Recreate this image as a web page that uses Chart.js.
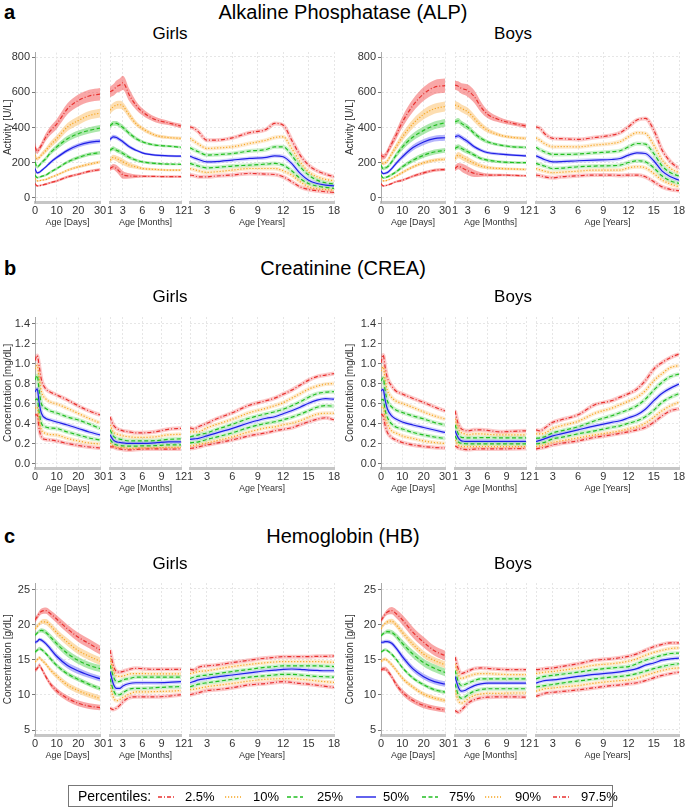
<!DOCTYPE html>
<html>
<head>
<meta charset="utf-8">
<script src="https://cdn.jsdelivr.net/npm/chart.js@4.4.1/dist/chart.umd.min.js"></script>
<style>
  body { margin: 0; background: #fff; font-family: "Liberation Sans", Arial, sans-serif; color: #000; }
  #page { position: relative; width: 685px; height: 811px; overflow: hidden; }
  .abs { position: absolute; line-height: 1; white-space: nowrap; }
  .letter { font-weight: bold; font-size: 20px; }
  .title { font-size: 20px; transform: translateX(-50%); }
  .sex { font-size: 17px; transform: translateX(-50%); }
  .panel { position: absolute; }
  #legend { position: absolute; left: 68px; top: 785px; width: 543px; height: 20px; border: 1.5px solid #777; }
  .lg { position: absolute; font-size: 13px; line-height: 1; top: 4px; }
</style>
</head>
<body>
<div id="page"></div>
<script>
// ── Categories / axes ───────────────────────────────────
const pctLabels = ["2.5%", "10%", "25%", "50%", "75%", "90%", "97.5%"];
const daysX   = [0, 1, 2, 3, 5, 7, 10, 15, 20, 25, 30];
const monthsX = [1, 1.5, 2, 2.5, 3, 4, 5, 6, 8, 10, 12];
const yearsX  = [1, 1.5, 2, 3, 4, 6, 8, 10, 11, 12, 13, 14, 15, 16, 17, 18];
const dayTicks   = [0, 10, 20, 30];
const monthTicks = [1, 3, 6, 9, 12];
const yearTicks  = [1, 3, 6, 9, 12, 15, 18];
const alpTicks  = [0, 200, 400, 600, 800];
const creaTicks = [0, 0.2, 0.4, 0.6, 0.8, 1.0, 1.2, 1.4];
const hbTicks   = [5, 10, 15, 20, 25];

// ── ALP (U/L), rows = 2.5, 10, 25, 50, 75, 90, 97.5 ─────
const alpGirlsDays = [
  [81, 68, 69, 72, 78, 86, 96, 119, 134, 150, 160],
  [110, 96, 97, 100, 104, 115, 129, 157, 176, 191, 204],
  [129, 115, 117, 122, 129, 145, 166, 204, 229, 248, 257],
  [166, 142, 145, 155, 176, 200, 229, 270, 299, 316, 323],
  [204, 176, 185, 200, 223, 255, 289, 336, 365, 384, 397],
  [242, 222, 230, 245, 270, 300, 336, 403, 440, 469, 482],
  [290, 265, 280, 300, 346, 380, 420, 507, 554, 580, 590]
];
const alpGirlsDaysCI = [
  [15, 10, 10, 10, 12, 12, 14, 15, 15, 16, 16],
  [15, 10, 10, 10, 12, 12, 14, 15, 16, 16, 16],
  [18, 12, 12, 12, 14, 15, 16, 18, 20, 20, 20],
  [22, 14, 14, 15, 16, 18, 20, 22, 24, 24, 24],
  [28, 18, 18, 20, 24, 26, 30, 34, 36, 36, 36],
  [35, 22, 22, 26, 30, 35, 40, 46, 50, 50, 50],
  [50, 30, 32, 36, 42, 48, 55, 62, 68, 70, 72]
];
const alpGirlsMonths = [
  [166, 176, 166, 148, 130, 124, 122, 122, 121, 120, 120],
  [214, 229, 223, 214, 204, 185, 176, 166, 161, 157, 157],
  [270, 280, 270, 262, 251, 229, 214, 204, 195, 191, 190],
  [331, 346, 342, 330, 318, 289, 270, 255, 242, 238, 236],
  [407, 422, 422, 412, 399, 365, 337, 318, 299, 293, 286],
  [497, 516, 526, 528, 520, 469, 422, 393, 355, 342, 337],
  [601, 611, 630, 639, 652, 582, 526, 488, 444, 425, 407]
];
const alpGirlsMonthsCI = [
  [25, 30, 40, 45, 45, 30, 20, 15, 12, 12, 12],
  [30, 30, 32, 35, 35, 30, 22, 18, 14, 12, 12],
  [25, 25, 25, 25, 25, 22, 18, 15, 14, 12, 12],
  [22, 22, 22, 22, 22, 20, 16, 14, 12, 12, 12],
  [28, 28, 28, 28, 28, 25, 20, 18, 15, 14, 14],
  [45, 45, 45, 45, 45, 40, 30, 25, 20, 18, 18],
  [60, 65, 70, 75, 80, 70, 50, 40, 30, 25, 25]
];
const alpGirlsYears = [
  [129, 125, 119, 119, 123, 129, 138, 134, 132, 119, 91, 62, 47, 40, 34, 30],
  [166, 160, 153, 144, 147, 157, 166, 166, 166, 153, 129, 91, 62, 51, 47, 43],
  [195, 188, 180, 170, 172, 180, 185, 191, 195, 185, 153, 110, 81, 66, 59, 53],
  [236, 226, 217, 204, 205, 214, 223, 229, 238, 233, 195, 138, 100, 81, 72, 68],
  [284, 272, 261, 242, 244, 251, 265, 274, 289, 289, 242, 176, 129, 100, 85, 78],
  [337, 320, 304, 280, 282, 289, 308, 327, 342, 346, 280, 204, 147, 119, 104, 96],
  [403, 393, 374, 327, 327, 340, 369, 388, 422, 412, 327, 242, 185, 153, 134, 119]
];
const alpBoysDays = [
  [81, 68, 69, 72, 81, 91, 100, 123, 142, 157, 161],
  [110, 96, 97, 100, 110, 123, 144, 176, 199, 214, 219],
  [129, 113, 115, 119, 132, 147, 176, 214, 242, 261, 270],
  [153, 138, 140, 144, 166, 195, 233, 286, 318, 337, 342],
  [185, 166, 170, 176, 204, 242, 289, 346, 384, 412, 427],
  [214, 195, 200, 210, 251, 289, 346, 422, 475, 507, 520],
  [242, 233, 240, 261, 308, 355, 431, 526, 592, 630, 639]
];
const alpBoysDaysCI = [
  [15, 10, 10, 10, 12, 12, 14, 16, 18, 18, 18],
  [15, 10, 10, 10, 12, 14, 16, 18, 20, 20, 20],
  [18, 12, 12, 14, 16, 18, 22, 26, 28, 28, 28],
  [22, 14, 14, 16, 20, 22, 26, 32, 34, 34, 34],
  [28, 18, 18, 20, 26, 30, 36, 42, 44, 44, 44],
  [35, 22, 22, 26, 32, 38, 45, 52, 56, 56, 56],
  [50, 30, 32, 36, 44, 52, 62, 72, 78, 80, 80]
];
const alpBoysMonths = [
  [166, 180, 172, 162, 153, 138, 132, 129, 129, 127, 125],
  [223, 242, 233, 223, 214, 195, 180, 172, 166, 163, 161],
  [280, 289, 280, 270, 261, 242, 223, 214, 204, 200, 199],
  [346, 352, 342, 330, 318, 289, 270, 257, 248, 242, 238],
  [431, 437, 422, 410, 399, 365, 337, 318, 299, 289, 286],
  [526, 520, 507, 498, 488, 450, 412, 384, 355, 342, 337],
  [639, 633, 620, 615, 607, 573, 516, 475, 441, 422, 407]
];
const alpBoysMonthsCI = [
  [30, 35, 45, 50, 50, 40, 25, 18, 14, 12, 12],
  [35, 35, 35, 35, 35, 30, 25, 20, 16, 14, 14],
  [28, 28, 28, 28, 26, 24, 20, 18, 15, 14, 14],
  [26, 26, 26, 26, 25, 22, 18, 16, 14, 14, 14],
  [30, 30, 30, 30, 30, 28, 24, 20, 16, 15, 15],
  [45, 45, 45, 45, 45, 42, 35, 28, 20, 18, 18],
  [50, 55, 60, 65, 70, 70, 60, 45, 30, 25, 25]
];
const alpBoysYears = [
  [129, 125, 119, 113, 119, 125, 129, 129, 127, 129, 129, 119, 91, 62, 47, 40],
  [166, 158, 151, 142, 145, 151, 157, 157, 157, 170, 176, 170, 138, 100, 78, 62],
  [195, 188, 180, 166, 168, 176, 180, 182, 185, 200, 210, 204, 170, 123, 96, 81],
  [238, 228, 217, 204, 205, 210, 214, 217, 223, 242, 255, 251, 210, 151, 119, 100],
  [286, 272, 261, 246, 246, 248, 255, 261, 267, 289, 308, 304, 251, 180, 142, 123],
  [340, 325, 308, 289, 290, 289, 299, 308, 318, 346, 369, 365, 299, 214, 166, 142],
  [403, 393, 365, 337, 335, 331, 342, 355, 369, 403, 441, 450, 384, 270, 204, 166]
];

// ── CREA (mg/dL) ────────────────────────────────────────
const creaGirlsDays = [
  [0.49, 0.49, 0.34, 0.27, 0.245, 0.24, 0.23, 0.205, 0.185, 0.17, 0.16],
  [0.555, 0.57, 0.42, 0.34, 0.305, 0.295, 0.29, 0.255, 0.23, 0.21, 0.20],
  [0.64, 0.65, 0.505, 0.405, 0.37, 0.36, 0.355, 0.32, 0.29, 0.26, 0.24],
  [0.72, 0.75, 0.60, 0.505, 0.455, 0.44, 0.42, 0.39, 0.355, 0.32, 0.29],
  [0.84, 0.885, 0.72, 0.60, 0.555, 0.53, 0.51, 0.47, 0.44, 0.40, 0.355],
  [0.95, 0.985, 0.84, 0.72, 0.65, 0.62, 0.60, 0.555, 0.505, 0.455, 0.41],
  [1.035, 1.085, 0.97, 0.84, 0.75, 0.72, 0.69, 0.64, 0.58, 0.53, 0.49]
];
const creaGirlsMonths = [
  [0.17, 0.17, 0.155, 0.15, 0.145, 0.14, 0.145, 0.148, 0.15, 0.148, 0.15],
  [0.21, 0.18, 0.165, 0.163, 0.163, 0.155, 0.157, 0.158, 0.16, 0.165, 0.165],
  [0.245, 0.205, 0.19, 0.185, 0.18, 0.178, 0.178, 0.18, 0.182, 0.19, 0.19],
  [0.29, 0.24, 0.22, 0.215, 0.21, 0.205, 0.205, 0.205, 0.21, 0.22, 0.22],
  [0.34, 0.28, 0.255, 0.248, 0.24, 0.23, 0.23, 0.23, 0.232, 0.245, 0.25],
  [0.39, 0.32, 0.30, 0.29, 0.28, 0.27, 0.265, 0.265, 0.27, 0.29, 0.295],
  [0.47, 0.39, 0.355, 0.34, 0.33, 0.32, 0.31, 0.31, 0.32, 0.345, 0.355]
];
const creaGirlsYears = [
  [0.155, 0.16, 0.17, 0.19, 0.205, 0.24, 0.28, 0.31, 0.33, 0.345, 0.36, 0.39, 0.42, 0.445, 0.46, 0.44],
  [0.18, 0.185, 0.195, 0.21, 0.23, 0.27, 0.32, 0.36, 0.37, 0.39, 0.405, 0.43, 0.465, 0.495, 0.505, 0.505],
  [0.21, 0.215, 0.22, 0.245, 0.265, 0.31, 0.365, 0.405, 0.42, 0.44, 0.465, 0.495, 0.53, 0.565, 0.58, 0.575],
  [0.245, 0.25, 0.255, 0.28, 0.305, 0.355, 0.41, 0.455, 0.47, 0.50, 0.53, 0.565, 0.605, 0.635, 0.65, 0.645],
  [0.27, 0.28, 0.29, 0.31, 0.34, 0.395, 0.455, 0.50, 0.52, 0.545, 0.58, 0.62, 0.665, 0.70, 0.715, 0.72],
  [0.32, 0.32, 0.32, 0.36, 0.39, 0.445, 0.51, 0.555, 0.58, 0.61, 0.655, 0.70, 0.745, 0.775, 0.795, 0.80],
  [0.36, 0.35, 0.37, 0.405, 0.445, 0.51, 0.585, 0.63, 0.655, 0.695, 0.735, 0.785, 0.835, 0.87, 0.885, 0.90]
];
const creaBoysDays = [
  [0.50, 0.48, 0.38, 0.315, 0.265, 0.24, 0.215, 0.19, 0.175, 0.165, 0.16],
  [0.565, 0.57, 0.465, 0.40, 0.33, 0.31, 0.28, 0.255, 0.23, 0.215, 0.205],
  [0.64, 0.645, 0.53, 0.465, 0.40, 0.37, 0.35, 0.315, 0.29, 0.27, 0.255],
  [0.73, 0.745, 0.63, 0.55, 0.48, 0.45, 0.42, 0.39, 0.365, 0.34, 0.315],
  [0.83, 0.86, 0.725, 0.63, 0.57, 0.54, 0.515, 0.48, 0.45, 0.415, 0.39],
  [0.93, 0.97, 0.83, 0.735, 0.665, 0.63, 0.605, 0.565, 0.52, 0.48, 0.45],
  [1.01, 1.09, 0.96, 0.86, 0.78, 0.73, 0.70, 0.655, 0.615, 0.57, 0.53]
];
const creaBoysMonths = [
  [0.18, 0.16, 0.15, 0.145, 0.143, 0.148, 0.15, 0.15, 0.15, 0.152, 0.155],
  [0.24, 0.19, 0.175, 0.173, 0.172, 0.173, 0.174, 0.174, 0.173, 0.173, 0.172],
  [0.28, 0.22, 0.205, 0.202, 0.20, 0.20, 0.201, 0.201, 0.20, 0.20, 0.20],
  [0.33, 0.26, 0.23, 0.226, 0.225, 0.225, 0.226, 0.226, 0.225, 0.225, 0.225],
  [0.39, 0.30, 0.265, 0.262, 0.26, 0.26, 0.262, 0.262, 0.26, 0.26, 0.26],
  [0.45, 0.35, 0.31, 0.30, 0.29, 0.30, 0.30, 0.295, 0.29, 0.29, 0.29],
  [0.53, 0.40, 0.35, 0.335, 0.33, 0.34, 0.34, 0.335, 0.32, 0.325, 0.33]
];
const creaBoysYears = [
  [0.15, 0.158, 0.165, 0.19, 0.205, 0.23, 0.265, 0.29, 0.305, 0.32, 0.34, 0.365, 0.415, 0.48, 0.53, 0.55],
  [0.172, 0.18, 0.19, 0.215, 0.23, 0.26, 0.29, 0.315, 0.33, 0.35, 0.37, 0.405, 0.465, 0.53, 0.58, 0.615],
  [0.20, 0.205, 0.215, 0.25, 0.265, 0.30, 0.33, 0.365, 0.38, 0.405, 0.43, 0.47, 0.535, 0.615, 0.665, 0.70],
  [0.225, 0.235, 0.25, 0.28, 0.30, 0.34, 0.38, 0.415, 0.43, 0.46, 0.49, 0.545, 0.63, 0.705, 0.755, 0.795],
  [0.255, 0.26, 0.27, 0.31, 0.33, 0.37, 0.43, 0.48, 0.51, 0.54, 0.58, 0.645, 0.735, 0.815, 0.87, 0.895],
  [0.30, 0.30, 0.305, 0.355, 0.38, 0.425, 0.505, 0.555, 0.59, 0.625, 0.665, 0.73, 0.83, 0.90, 0.96, 0.98],
  [0.34, 0.33, 0.355, 0.415, 0.44, 0.49, 0.59, 0.63, 0.665, 0.70, 0.745, 0.83, 0.945, 1.01, 1.06, 1.095]
];

// ── HB (g/dL) ───────────────────────────────────────────
const hbGirlsDays = [
  [13.6, 13.75, 14.2, 13.75, 12.6, 11.6, 10.6, 9.5, 8.8, 8.4, 8.2],
  [14.7, 15.0, 15.3, 15.0, 14.4, 13.6, 12.7, 11.4, 10.6, 10.0, 9.5],
  [16.1, 16.35, 16.6, 16.45, 15.9, 15.2, 14.2, 13.0, 12.2, 11.5, 10.9],
  [17.5, 17.6, 17.9, 17.8, 17.3, 16.6, 15.5, 14.2, 13.4, 12.8, 12.3],
  [18.5, 18.8, 19.1, 19.2, 18.9, 18.3, 17.3, 15.9, 14.9, 14.2, 13.75],
  [19.4, 19.75, 20.1, 20.4, 20.4, 19.9, 18.9, 17.5, 16.3, 15.5, 14.8],
  [20.7, 21.1, 21.6, 21.9, 22.0, 21.6, 20.8, 19.4, 18.2, 17.3, 16.4]
];
const hbGirlsDaysCI = [
  [0.6, 0.6, 0.6, 0.6, 0.7, 0.7, 0.8, 0.8, 0.8, 0.8, 0.8],
  [0.5, 0.5, 0.5, 0.5, 0.6, 0.7, 0.8, 0.8, 0.8, 0.8, 0.8],
  [0.5, 0.5, 0.5, 0.5, 0.5, 0.6, 0.6, 0.6, 0.6, 0.6, 0.6],
  [0.5, 0.5, 0.5, 0.5, 0.6, 0.7, 0.8, 0.9, 0.9, 0.8, 0.8],
  [0.5, 0.5, 0.5, 0.6, 0.7, 0.8, 0.9, 1.0, 1.0, 1.0, 1.0],
  [0.6, 0.6, 0.6, 0.6, 0.8, 0.9, 1.0, 1.1, 1.1, 1.1, 1.1],
  [0.8, 0.8, 0.8, 0.8, 0.9, 1.0, 1.1, 1.2, 1.3, 1.3, 1.3]
];
const hbGirlsMonths = [
  [8.1, 7.9, 8.1, 8.5, 9.0, 9.6, 9.7, 9.7, 9.7, 9.8, 10.0],
  [11.4, 9.7, 9.15, 9.3, 9.6, 10.1, 10.4, 10.4, 10.45, 10.5, 10.6],
  [12.3, 10.7, 10.0, 10.0, 10.3, 10.8, 10.9, 10.9, 11.0, 11.1, 11.15],
  [13.3, 11.6, 10.9, 10.9, 11.25, 11.6, 11.7, 11.7, 11.7, 11.75, 11.85],
  [14.2, 12.65, 11.85, 11.9, 12.1, 12.3, 12.5, 12.5, 12.5, 12.5, 12.5],
  [15.2, 13.5, 12.65, 12.6, 12.65, 12.95, 13.0, 13.0, 12.95, 12.95, 12.95],
  [16.35, 14.2, 13.3, 13.2, 13.3, 13.6, 13.75, 13.7, 13.6, 13.6, 13.6]
];
const hbGirlsYears = [
  [10.0, 10.15, 10.3, 10.6, 10.7, 11.0, 11.4, 11.6, 11.75, 11.85, 11.75, 11.6, 11.5, 11.35, 11.2, 11.05],
  [10.7, 10.8, 10.9, 11.15, 11.3, 11.6, 11.95, 12.2, 12.25, 12.3, 12.3, 12.2, 12.1, 11.95, 11.85, 11.75],
  [11.15, 11.3, 11.5, 11.7, 11.85, 12.2, 12.5, 12.7, 12.8, 12.9, 12.9, 12.8, 12.7, 12.6, 12.55, 12.5],
  [11.7, 11.9, 12.1, 12.3, 12.5, 12.8, 13.1, 13.4, 13.5, 13.6, 13.65, 13.6, 13.5, 13.45, 13.4, 13.4],
  [12.3, 12.5, 12.65, 12.8, 12.95, 13.3, 13.6, 13.9, 14.0, 14.1, 14.1, 14.1, 14.1, 14.1, 14.05, 14.0],
  [13.0, 13.15, 13.3, 13.4, 13.6, 14.0, 14.3, 14.55, 14.65, 14.7, 14.7, 14.7, 14.7, 14.7, 14.65, 14.6],
  [13.6, 13.5, 13.9, 14.1, 14.2, 14.55, 14.9, 15.2, 15.3, 15.4, 15.4, 15.4, 15.4, 15.45, 15.45, 15.5]
];
const hbBoysDays = [
  [13.55, 13.7, 13.7, 13.45, 12.6, 11.55, 10.4, 9.2, 8.5, 8.1, 7.85],
  [14.8, 15.0, 15.1, 14.9, 14.3, 13.55, 12.4, 11.1, 10.1, 9.55, 9.2],
  [16.1, 16.3, 16.45, 16.3, 15.8, 15.1, 13.9, 12.4, 11.45, 10.75, 10.4],
  [17.5, 17.5, 17.6, 17.6, 17.35, 16.7, 15.45, 13.7, 12.6, 11.9, 11.55],
  [18.4, 18.7, 18.9, 19.0, 18.9, 18.4, 17.35, 15.8, 14.6, 13.8, 13.2],
  [19.4, 19.9, 20.2, 20.4, 20.5, 20.0, 18.9, 17.2, 15.8, 14.9, 14.3],
  [20.6, 21.05, 21.5, 21.8, 22.0, 21.6, 20.7, 18.9, 17.5, 16.3, 15.6]
];
const hbBoysDaysCI = [
  [0.6, 0.6, 0.6, 0.7, 0.7, 0.8, 0.8, 0.8, 0.8, 0.7, 0.7],
  [0.5, 0.5, 0.5, 0.5, 0.6, 0.6, 0.6, 0.6, 0.6, 0.6, 0.6],
  [0.4, 0.4, 0.4, 0.4, 0.5, 0.5, 0.5, 0.5, 0.5, 0.5, 0.5],
  [0.5, 0.5, 0.5, 0.5, 0.6, 0.7, 0.8, 0.8, 0.8, 0.8, 0.8],
  [0.5, 0.5, 0.5, 0.6, 0.7, 0.8, 1.0, 1.1, 1.1, 1.1, 1.1],
  [0.5, 0.5, 0.5, 0.6, 0.7, 0.8, 0.9, 1.0, 1.0, 1.0, 1.0],
  [0.7, 0.7, 0.7, 0.8, 1.0, 1.2, 1.4, 1.5, 1.5, 1.4, 1.4]
];
const hbBoysMonths = [
  [7.75, 7.5, 7.85, 8.3, 8.8, 9.3, 9.55, 9.65, 9.7, 9.7, 9.65],
  [10.6, 9.2, 8.8, 9.05, 9.4, 9.9, 10.1, 10.2, 10.2, 10.25, 10.25],
  [11.55, 10.0, 9.5, 9.65, 10.0, 10.5, 10.75, 10.85, 10.85, 10.85, 10.85],
  [12.6, 11.1, 10.5, 10.6, 10.85, 11.3, 11.55, 11.65, 11.65, 11.65, 11.65],
  [13.45, 11.9, 11.3, 11.45, 11.65, 12.0, 12.25, 12.25, 12.25, 12.25, 12.25],
  [14.4, 12.9, 12.3, 12.45, 12.6, 12.9, 13.0, 13.0, 12.9, 12.85, 12.85],
  [15.35, 13.7, 13.0, 13.15, 13.35, 13.7, 13.8, 13.75, 13.6, 13.55, 13.55]
];
const hbBoysYears = [
  [9.75, 10.0, 10.2, 10.35, 10.45, 10.7, 11.0, 11.3, 11.4, 11.55, 11.7, 12.0, 12.4, 12.75, 13.0, 13.2],
  [10.5, 10.7, 10.85, 10.95, 11.1, 11.3, 11.65, 11.9, 12.0, 12.1, 12.35, 12.75, 13.1, 13.45, 13.7, 13.8],
  [11.1, 11.2, 11.3, 11.45, 11.65, 11.95, 12.25, 12.5, 12.6, 12.75, 13.0, 13.35, 13.7, 14.0, 14.25, 14.4],
  [11.65, 11.85, 12.0, 12.1, 12.25, 12.6, 12.9, 13.1, 13.25, 13.45, 13.7, 14.2, 14.5, 14.9, 15.1, 15.2],
  [12.25, 12.45, 12.6, 12.75, 12.9, 13.2, 13.55, 13.8, 13.9, 14.0, 14.4, 14.9, 15.25, 15.6, 15.85, 15.9],
  [13.0, 13.1, 13.2, 13.3, 13.45, 13.8, 14.2, 14.4, 14.55, 14.75, 15.1, 15.6, 16.0, 16.3, 16.55, 16.65],
  [13.55, 13.6, 13.7, 13.8, 14.0, 14.4, 14.9, 15.1, 15.25, 15.45, 15.8, 16.3, 16.8, 17.15, 17.35, 17.35]
];

// ── Styles ──────────────────────────────────────────────
const FONT = "'Liberation Sans', Arial, sans-serif";
const lineColors = ["#e8312f", "#f6a623", "#22bf22", "#1f1fe6", "#22bf22", "#f6a623", "#e8312f"];
const bandColors = ["rgba(244,80,80,0.5)", "rgba(252,190,100,0.5)", "rgba(90,210,90,0.5)", "rgba(110,110,250,0.5)",
                    "rgba(90,210,90,0.5)", "rgba(252,190,100,0.5)", "rgba(244,80,80,0.5)"];
const haloColors = ["rgba(244,80,80,0.3)", "rgba(252,190,100,0.3)", "rgba(90,210,90,0.3)", "rgba(110,110,250,0.3)",
                    "rgba(90,210,90,0.3)", "rgba(252,190,100,0.3)", "rgba(244,80,80,0.3)"];
const dashes = [[4, 2, 1, 2], [1.2, 1.8], [4, 2.5], [], [4, 2.5], [1.2, 1.8], [4, 2, 1, 2]];

const page = document.getElementById("page");

function addText(cls, text, left, top) {
  const el = document.createElement("div");
  el.className = "abs " + cls;
  el.textContent = text;
  el.style.left = left + "px";
  el.style.top = top + "px";
  page.appendChild(el);
}

// ── Layout ──────────────────────────────────────────────
const PAD_X = 10, PAD_T = 8, X_H = 26;
const rows = [
  { letter: "a", title: "Alkaline Phosphatase (ALP)", titleY: 2, sexY: 25, top: 52, bottom: 202,
    yMin: -24, yMax: 827, yTicks: alpTicks, dec: 0, yTitle: "Activity [U/L]",
    girls: [alpGirlsDays, alpGirlsMonths, alpGirlsYears], girlsCI: [alpGirlsDaysCI, alpGirlsMonthsCI, null],
    boys: [alpBoysDays, alpBoysMonths, alpBoysYears], boysCI: [alpBoysDaysCI, alpBoysMonthsCI, null] },
  { letter: "b", title: "Creatinine (CREA)", titleY: 258, sexY: 288, top: 317, bottom: 468,
    yMin: -0.04, yMax: 1.463, yTicks: creaTicks, dec: 1, yTitle: "Concentration [mg/dL]",
    girls: [creaGirlsDays, creaGirlsMonths, creaGirlsYears], girlsCI: [null, null, null],
    boys: [creaBoysDays, creaBoysMonths, creaBoysYears], boysCI: [null, null, null] },
  { letter: "c", title: "Hemoglobin (HB)", titleY: 526, sexY: 555, top: 583, bottom: 735,
    yMin: 4.29, yMax: 25.85, yTicks: hbTicks, dec: 0, yTitle: "Concentration [g/dL]",
    girls: [hbGirlsDays, hbGirlsMonths, hbGirlsYears], girlsCI: [hbGirlsDaysCI, null, null],
    boys: [hbBoysDays, hbBoysMonths, hbBoysYears], boysCI: [hbBoysDaysCI, null, null] }
];
const cols = {
  girls: { label: "Girls", center: 170, yW: 33, spans: [[35, 100], [110, 181], [190, 334]] },
  boys:  { label: "Boys",  center: 513, yW: 37, spans: [[381, 445], [455, 526], [536, 679]] }
};
const segs = [
  { xs: daysX,   min: 0, max: 30, ticks: dayTicks,   title: "Age [Days]" },
  { xs: monthsX, min: 1, max: 12, ticks: monthTicks, title: "Age [Months]" },
  { xs: yearsX,  min: 1, max: 18, ticks: yearTicks,  title: "Age [Years]" }
];

function buildDatasets(xs, series, ci) {
  const lines = [], under = [];
  series.forEach((vals, i) => {
    const pts = xs.map((x, j) => ({ x, y: vals[j] }));
    lines.push({ data: pts, borderColor: lineColors[i], borderDash: dashes[i], borderWidth: 1.2,
                 pointRadius: 0, fill: false, order: 1 });
    if (ci) {
      under.push({ data: xs.map((x, j) => ({ x, y: vals[j] - ci[i][j] / 2 })), borderColor: "transparent",
                   borderWidth: 1, pointRadius: 0, fill: false, order: 3 });
      under.push({ data: xs.map((x, j) => ({ x, y: vals[j] + ci[i][j] / 2 })), borderColor: "transparent",
                   borderWidth: 1, pointRadius: 0, fill: "-1", backgroundColor: bandColors[i], order: 3 });
    } else {
      under.push({ data: pts, borderColor: haloColors[i], borderWidth: 4, pointRadius: 0, fill: false, order: 2 });
    }
  });
  return under.concat(lines);
}

function makePanel(row, col, segIdx, series, ci) {
  const seg = segs[segIdx];
  const [pl, pr] = col.spans[segIdx];
  const showY = segIdx === 0;
  const yW = showY ? col.yW : 0;
  const w = (pr - pl) + 2 * PAD_X + yW;
  const h = PAD_T + (row.bottom - row.top) + X_H;
  const div = document.createElement("div");
  div.className = "panel";
  div.style.left = (pl - PAD_X - yW) + "px";
  div.style.top = (row.top - PAD_T) + "px";
  div.style.width = w + "px";
  div.style.height = h + "px";
  const canvas = document.createElement("canvas");
  canvas.width = w;
  canvas.height = h;
  div.appendChild(canvas);
  page.appendChild(div);

  new Chart(canvas.getContext("2d"), {
    type: "line",
    data: { datasets: buildDatasets(seg.xs, series, ci) },
    options: {
      responsive: false,
      animation: false,
      events: [],
      layout: { padding: { left: PAD_X, right: PAD_X, top: PAD_T, bottom: 0 } },
      elements: { line: { cubicInterpolationMode: "monotone" } },
      plugins: { legend: { display: false }, tooltip: { enabled: false }, filler: { drawTime: "beforeDatasetsDraw" } },
      scales: {
        x: {
          type: "linear", min: seg.min, max: seg.max,
          afterBuildTicks: s => { s.ticks = seg.ticks.map(v => ({ value: v })); },
          afterFit: s => { s.height = X_H; },
          ticks: { font: { family: FONT, size: 11 }, color: "#333", padding: 2, maxRotation: 0, autoSkip: false,
                   callback: v => String(v) },
          grid: { color: "#e6e6e6", drawTicks: false },
          border: { color: "#c6c6c6", width: 3, dash: [2, 2] },
          title: { display: true, text: seg.title, font: { family: FONT, size: 9 }, color: "#333",
                   padding: { top: 0, bottom: 0 } }
        },
        y: {
          min: row.yMin, max: row.yMax,
          afterBuildTicks: s => { s.ticks = row.yTicks.map(v => ({ value: v })); },
          afterFit: s => { s.width = yW; },
          ticks: { display: showY, font: { family: FONT, size: 11 }, color: "#333", padding: 2,
                   callback: v => Number(v).toFixed(row.dec) },
          grid: { color: "#e6e6e6", drawTicks: showY, tickLength: 3, tickColor: "#777" },
          border: { display: showY, color: "#aaa", width: 1, dash: [2, 2] },
          title: { display: showY, text: row.yTitle, font: { family: FONT, size: 10 }, color: "#333",
                   padding: { top: 0, bottom: 0 } }
        }
      }
    }
  });
}

// ── Build page ──────────────────────────────────────────
rows.forEach(row => {
  addText("letter", row.letter, 4, row.titleY);
  addText("title", row.title, 343, row.titleY);
  ["girls", "boys"].forEach(key => {
    const col = cols[key];
    addText("sex", col.label, col.center, row.sexY);
    for (let s = 0; s < 3; s++) makePanel(row, col, s, row[key][s], row[key + "CI"][s]);
  });
});

// ── Legend ──────────────────────────────────────────────
const legend = document.createElement("div");
legend.id = "legend";
page.appendChild(legend);
const lgHead = document.createElement("div");
lgHead.className = "lg";
lgHead.style.left = "9px";
lgHead.style.top = "3px";
lgHead.style.fontSize = "14px";
lgHead.textContent = "Percentiles:";
legend.appendChild(lgHead);
const sampleLeft = [89, 156, 218, 287, 353, 416, 484];
const labelLeft = [116, 184, 248, 314, 380, 446, 512];
pctLabels.forEach((lab, i) => {
  const sw = i === 3 ? 20 : 16;
  const svg = document.createElementNS("http://www.w3.org/2000/svg", "svg");
  svg.setAttribute("width", sw);
  svg.setAttribute("height", 6);
  svg.style.position = "absolute";
  svg.style.left = sampleLeft[i] + "px";
  svg.style.top = "8px";
  const ln = document.createElementNS("http://www.w3.org/2000/svg", "line");
  ln.setAttribute("x1", 0); ln.setAttribute("y1", 3); ln.setAttribute("x2", sw); ln.setAttribute("y2", 3);
  ln.setAttribute("stroke", lineColors[i]);
  ln.setAttribute("stroke-width", 1.4);
  if (dashes[i].length) ln.setAttribute("stroke-dasharray", dashes[i].join(","));
  svg.appendChild(ln);
  legend.appendChild(svg);
  const t = document.createElement("div");
  t.className = "lg";
  t.style.left = labelLeft[i] + "px";
  t.textContent = lab;
  legend.appendChild(t);
});
</script>
</body>
</html>
